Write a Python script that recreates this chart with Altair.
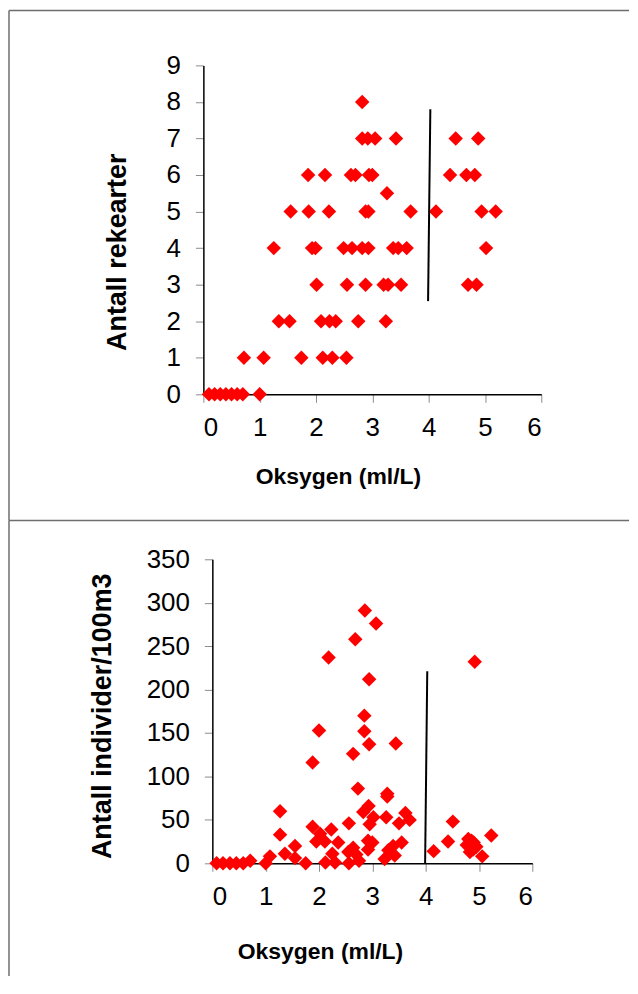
import pandas as pd
import altair as alt

FONT = "Liberation Sans"
RED = "#ff0000"

# øvre figur: antall rekearter mot oksygen (ml/L)
rek_oks = [0.1, 0.2, 0.3, 0.4, 0.5, 0.6, 0.7, 1.0,
           0.72, 1.07, 1.74, 2.12, 2.29, 2.54,
           1.34, 1.53, 2.09, 2.24, 2.35, 2.75, 3.24,
           2.01, 2.55, 2.88, 3.2, 3.28, 3.51, 4.70, 4.85,
           1.25, 1.93, 1.99, 2.49, 2.64, 2.82, 2.93, 3.37, 3.46, 3.61, 5.02,
           1.55, 1.87, 2.23, 2.88, 2.93, 3.68, 4.13, 4.94, 5.19,
           3.26,
           1.86, 2.16, 2.62, 2.70, 2.94, 3.0, 4.38, 4.67, 4.82,
           2.82, 2.92, 3.05, 3.42, 4.48, 4.88,
           2.82]
rek_ant = [0, 0, 0, 0, 0, 0, 0, 0,
           1, 1, 1, 1, 1, 1,
           2, 2, 2, 2, 2, 2, 2,
           3, 3, 3, 3, 3, 3, 3, 3,
           4, 4, 4, 4, 4, 4, 4, 4, 4, 4, 4,
           5, 5, 5, 5, 5, 5, 5, 5, 5,
           5.5,
           6, 6, 6, 6, 6, 6, 6, 6, 6,
           7, 7, 7, 7, 7, 7,
           8]

# nedre figur: antall individer/100m3 mot oksygen
ind_oks = [0.08, 0.2, 0.33, 0.45, 0.58, 0.71, 1.0, 1.08, 1.27, 1.27,
           1.36, 1.55, 1.55, 1.75, 1.88, 1.88, 2.0, 2.02, 1.95, 2.11,
           2.12, 2.18, 2.23, 2.25, 2.3, 2.36, 2.56, 2.56, 2.55, 2.64,
           2.64, 2.68, 2.73, 2.75, 2.7, 2.83, 2.86, 2.85, 2.85, 2.94,
           2.94, 2.93, 2.92, 2.92, 3.0, 3.02, 3.07, 4.92, 3.44, 3.28,
           3.28, 3.26, 3.62, 3.7, 3.5, 2.95, 3.55, 3.39, 3.3, 3.42,
           3.23, 4.51, 4.42, 4.15, 4.86, 4.77, 4.89, 4.95, 4.83, 5.23,
           5.06, 4.8, 4.9]
ind_ant = [0, 0, 0, 0, 0, 3, 0, 8, 60, 33,
           11, 20, 6, 0, 116, 42, 153, 34, 25, 25,
           1, 237, 39, 11, 1, 24, 46, 0, 13, 18,
           126, 258, 86, 3, 10, 59, 291, 170, 152, 212,
           137, 66, 26, 16, 24, 53, 276, 232, 138, 80,
           77, 53, 58, 50, 46, 45, 24, 20, 15, 9,
           5, 48, 25, 14, 26, 21, 16, 19, 13, 32,
           8, 28, 24]

# loddrett strek ved 4 ml/L
strek_top_x = [3.99, 4.03]
strek_top_y = [2.55, 7.8]
strek_bot_x = [3.99, 4.03]
strek_bot_y = [0, 221]

x_ticks = [0, 1, 2, 3, 4, 5, 6]
top_ticks = [0, 1, 2, 3, 4, 5, 6, 7, 8, 9]
bot_ticks = [0, 50, 100, 150, 200, 250, 300, 350]


def axis_x(tx, ty):
    return alt.Axis(values=x_ticks, tickCount=7, format="d", labelOverlap=False,
                    title="Oksygen (ml/L)", grid=False,
                    domainColor="black", domainWidth=1.5, tickColor="#8c8c8c", tickSize=8,
                    labelFont=FONT, labelFontSize=26, labelColor="black",
                    labelBaseline="middle", labelPadding=25,
                    titleFont=FONT, titleFontSize=23, titleFontWeight="bold", titleColor="black",
                    titleX=tx, titleY=ty, titleAlign="center", titleBaseline="middle")


def axis_y(title, vals, tx, ty, offset=0):
    return alt.Axis(values=vals, tickCount=len(vals), format="d", labelOverlap=False,
                    title=title, grid=False, offset=offset,
                    domainColor="black", domainWidth=1.5, tickColor="#8c8c8c", tickSize=8,
                    labelFont=FONT, labelFontSize=26, labelColor="black", labelPadding=15,
                    titleFont=FONT, titleFontSize=27, titleFontWeight="bold", titleColor="black",
                    titleX=tx, titleY=ty, titleAlign="center", titleBaseline="middle", titleAngle=270)


def panel(oks, ant, lx, ly, ytitle, ymax, yvals, w, h, xrange, xt, yt, yoff, frame):
    df = pd.DataFrame({"oks": oks, "ant": ant})
    xs = alt.Scale(domain=[0, 6], nice=False, range=xrange)
    ys = alt.Scale(domain=[0, ymax], nice=False)
    ax = axis_x(*xt)
    ay = axis_y(ytitle, yvals, *yt, offset=yoff)
    pts = alt.Chart(df).mark_point(shape="diamond", filled=True, size=210, opacity=1, color=RED).encode(
        x=alt.X("oks:Q", scale=xs, axis=ax),
        y=alt.Y("ant:Q", scale=ys, axis=ay),
    )
    strek = alt.Chart(pd.DataFrame({"oks": lx, "ant": ly})).mark_line(color="black", strokeWidth=2).encode(
        x=alt.X("oks:Q", scale=xs, axis=ax), y=alt.Y("ant:Q", scale=ys, axis=ay)
    )
    one = pd.DataFrame({"a": [0]})
    rules = []
    for r in frame:
        rules.append(alt.Chart(one).mark_rule(color="#6e6e6e", strokeWidth=1.5).encode(**r))
    return alt.layer(*rules, pts, strek).properties(width=w, height=h)


# øvre panel: plotflate starter ved x=203, y=64 på siden
top = panel(rek_oks, rek_ant, strek_top_x, strek_top_y, "Antall rekearter", 9,
            top_ticks, 339, 330, [0, 339], (135, 82), (-86, 187), 0,
            [dict(x=alt.value(-195), x2=alt.value(427), y=alt.value(-55)),
             dict(x=alt.value(-195), y=alt.value(-55), y2=alt.value(456.5)),
             dict(x=alt.value(-195), x2=alt.value(427), y=alt.value(456.5))])

# nedre panel: samme venstrekant, plotflaten forskjøvet 9 px mot høyre
bot = panel(ind_oks, ind_ant, strek_bot_x, strek_bot_y, "Antall individer/100m3", 350,
            bot_ticks, 330, 305, [9, 330], (117, 88), (-110, 157), -9,
            [dict(x=alt.value(-195), y=alt.value(-39), y2=alt.value(418))])

chart = alt.vconcat(top, bot, spacing=165.5, bounds="flush").properties(padding=0).configure_view(stroke=None)

chart.save("out.html", embed_options={"renderer": "svg", "actions": False})
